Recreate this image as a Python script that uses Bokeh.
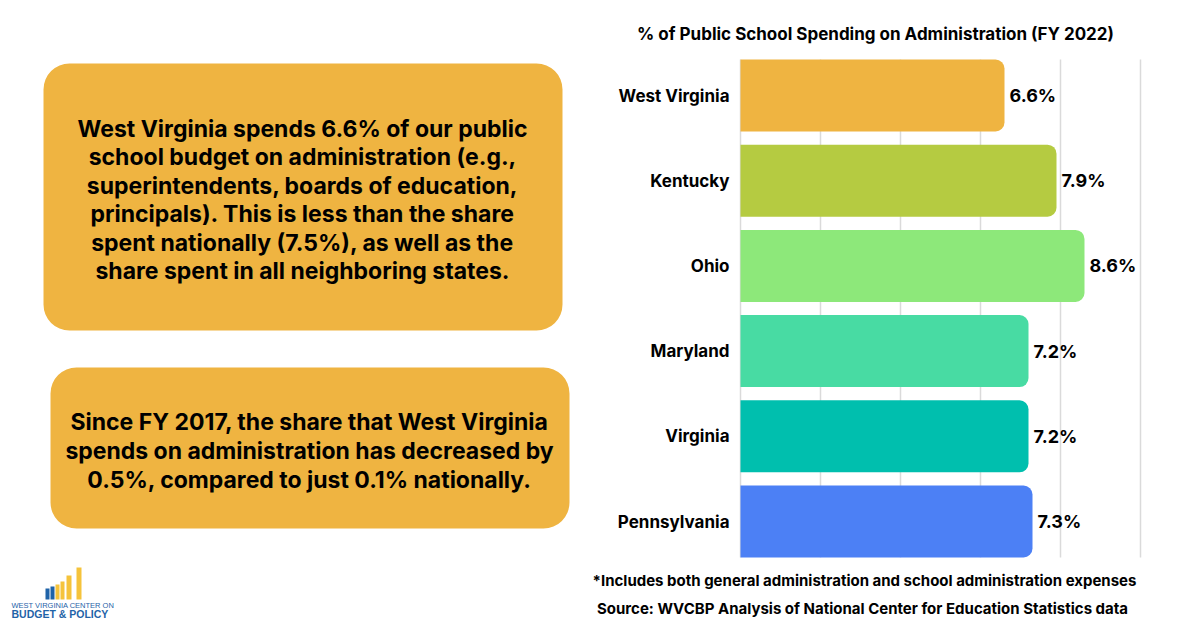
from bokeh.plotting import figure
from bokeh.models import ColumnDataSource, Range1d
from bokeh.core.properties import value
from bokeh.embed import file_html
from bokeh.resources import INLINE

# ---------------- data ----------------
states = ["West Virginia", "Kentucky", "Ohio", "Maryland", "Virginia", "Pennsylvania"]
admin_share = [6.6, 7.9, 8.6, 7.2, 7.2, 7.3]
bar_colors = ["#EFB441", "#B5CB41", "#8DE87A", "#48DBA3", "#00BFAE", "#4C80F5"]
grid_ticks = [0, 2, 4, 6, 8, 10]

chart_title = "% of Public School Spending on Administration (FY 2022)"
note_text = "*Includes both general administration and school administration expenses"
source_text = "Source: WVCBP Analysis of National Center for Education Statistics data"

box1_lines = [
    "West Virginia spends 6.6% of our public",
    "school budget on administration (e.g.,",
    "superintendents, boards of education,",
    "principals). This is less than the share",
    "spent nationally (7.5%), as well as the",
    "share spent in all neighboring states.",
]
box2_lines = [
    "Since FY 2017, the share that West Virginia",
    "spends on administration has decreased by",
    "0.5%, compared to just 0.1% nationally.",
]
logo_line1 = "WEST VIRGINIA CENTER ON"
logo_line2 = "BUDGET & POLICY"

# ---------------- layout / style constants ----------------
W, H = 1200, 630
FONT = "Inter"
GOLD = "#EFB441"
GRID = "#DADADA"
LOGO_BLUE = "#1F63A8"
LOGO_YELLOW = "#F5C33B"
PLOT_LEFT = 740        # page x of 0 %
PX_PER_PCT = 40        # page px per 1 %
ROW0 = 95              # page y of first bar centre
ROW_STEP = 85.2        # page px between bars
BAR_H = 0.845          # bar thickness in row units

p = figure(width=W, height=H, x_range=Range1d(0, W), y_range=Range1d(H, 0),
           min_border=0, x_axis_location=None, y_axis_location=None,
           output_backend="svg", toolbar_location=None)
p.grid.visible = False
p.outline_line_color = None
p.extra_x_ranges = {"pct": Range1d(-PLOT_LEFT / PX_PER_PCT, (W - PLOT_LEFT) / PX_PER_PCT)}
p.extra_y_ranges = {"row": Range1d((H - ROW0) / ROW_STEP, -ROW0 / ROW_STEP)}

# ---------------- left panel ----------------
p.quad(left=[43, 50], right=[562, 569], top=[63, 367], bottom=[330, 528],
       fill_color=GOLD, line_color=None, border_radius=26)

b1y0, b1step = 128, 28.5
p.text(x=[302] * len(box1_lines), y=[b1y0 + i * b1step for i in range(len(box1_lines))],
       text=box1_lines, text_align="center", text_baseline="middle",
       text_font=value(FONT), text_font_style="bold", text_font_size="23px", text_color="black")

b2y0, b2step = 421, 29
p.text(x=[309] * len(box2_lines), y=[b2y0 + i * b2step for i in range(len(box2_lines))],
       text=box2_lines, text_align="center", text_baseline="middle",
       text_font=value(FONT), text_font_style="bold", text_font_size="23px", text_color="black")

# logo (decoration)
p.quad(left=[45, 50], right=[49, 54], top=[588, 586], bottom=[599, 599],
       fill_color=LOGO_BLUE, line_color=None)
p.quad(left=[55, 60, 66, 76], right=[59, 64, 71, 81], top=[584, 581, 575, 567],
       bottom=[599, 599, 599, 599], fill_color=LOGO_YELLOW, line_color=None)
p.text(x=[11], y=[604.5], text=[logo_line1], text_align="left", text_baseline="middle",
       text_font=value("Liberation Sans"), text_font_size="7.5px", text_color=LOGO_BLUE)
p.text(x=[11], y=[613.5], text=[logo_line2], text_align="left", text_baseline="middle",
       text_font=value("Liberation Sans"), text_font_style="bold", text_font_size="10.5px",
       text_color=LOGO_BLUE)

# ---------------- chart ----------------
src = ColumnDataSource(dict(state=states, share=admin_share, color=bar_colors,
                            row=list(range(len(states))),
                            label=[f"{v}%" for v in admin_share]))

p.segment(x0=grid_ticks, x1=grid_ticks, y0=-BAR_H / 2, y1=len(states) - 1 + BAR_H / 2,
          x_range_name="pct", y_range_name="row", line_color=GRID, line_width=1.5)

p.hbar(y="row", left=0, right="share", height=BAR_H, fill_color="color",
       line_color=None, border_radius=(0, 9, 9, 0), source=src,
       x_range_name="pct", y_range_name="row")

p.text(x="share", y="row", text="label", x_offset=5, text_align="left",
       text_baseline="middle", text_font=value(FONT), text_font_style="bold",
       text_font_size="18px", text_color="black", source=src,
       x_range_name="pct", y_range_name="row")

p.text(x=0, y="row", text="state", x_offset=-11, text_align="right",
       text_baseline="middle", text_font=value(FONT), text_font_style="bold",
       text_font_size="17px", text_color="black", source=src,
       x_range_name="pct", y_range_name="row")

# titles / notes
p.text(x=[875], y=[33], text=[chart_title], text_align="center", text_baseline="middle",
       text_font=value(FONT), text_font_style="bold", text_font_size="17px", text_color="black")
p.text(x=[864, 862], y=[580, 608], text=[note_text, source_text], text_align="center",
       text_baseline="middle", text_font=value(FONT), text_font_style="bold",
       text_font_size="15px", text_color="black")

open("out.html", "w").write(file_html(p, INLINE))
